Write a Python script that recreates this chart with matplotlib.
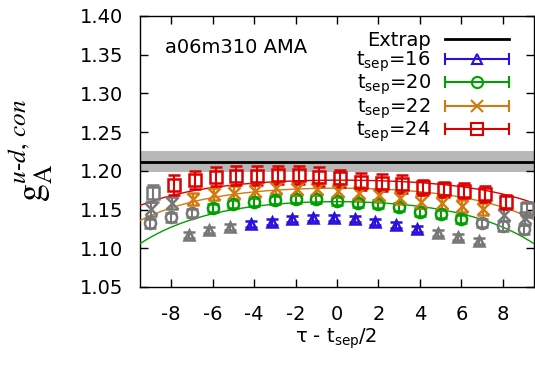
import numpy as np
import matplotlib
matplotlib.use("Agg")
import matplotlib.pyplot as plt
from matplotlib.lines import Line2D
from matplotlib.container import ErrorbarContainer
from matplotlib.legend_handler import HandlerErrorbar

plt.rcParams['font.family'] = ['DejaVu Sans']
plt.rcParams['mathtext.fontset'] = 'dejavusans'
plt.rcParams['axes.unicode_minus'] = False

# data
x16 = [-7, -6, -5, -4, -3, -2, -1, 0, 1, 2, 3, 4, 5, 6, 7]
y16 = [1.1172, 1.1236, 1.1271, 1.1314, 1.1343, 1.1374, 1.1387, 1.1387,
       1.1374, 1.1343, 1.1301, 1.1245, 1.1194, 1.1150, 1.1098]
e16 = [0.004] * 15

x20 = [-9, -8, -7, -6, -5, -4, -3, -2, -1, 0, 1, 2, 3, 4, 5, 6, 7, 8, 9]
y20 = [1.1323, 1.1400, 1.1460, 1.1516, 1.1572, 1.1602, 1.1624, 1.1633, 1.1633, 1.1615,
       1.1589, 1.1572, 1.1529, 1.1473, 1.1443, 1.1374, 1.1331, 1.1288, 1.1245]
e20 = [0.006, 0.006, 0.005, 0.005, 0.005, 0.005, 0.005, 0.005, 0.005, 0.005,
       0.005, 0.005, 0.005, 0.005, 0.005, 0.005, 0.005, 0.006, 0.006]

x22 = [-9, -8, -7, -6, -5, -4, -3, -2, -1, 0, 1, 2, 3, 4, 5, 6, 7, 8, 9]
y22 = [1.1504, 1.1581, 1.1633, 1.1701, 1.1718, 1.1744, 1.1775, 1.1762, 1.1762, 1.1744,
       1.1710, 1.1688, 1.1646, 1.1602, 1.1581, 1.1546, 1.1504, 1.1430, 1.1387]
e22 = [0.009, 0.008, 0.008, 0.008, 0.008, 0.008, 0.008, 0.008, 0.008, 0.008,
       0.008, 0.008, 0.008, 0.008, 0.008, 0.008, 0.008, 0.008, 0.008]

x24 = [-9, -8, -7, -6, -5, -4, -3, -2, -1, 0, 1, 2, 3, 4, 5, 6, 7, 8, 9]
y24 = [1.1710, 1.1817, 1.1882, 1.1925, 1.1938, 1.1938, 1.1947, 1.1947, 1.1925, 1.1904,
       1.1860, 1.1847, 1.1830, 1.1788, 1.1762, 1.1744, 1.1701, 1.1602, 1.1504]
e24 = [0.011, 0.013, 0.012, 0.012, 0.012, 0.012, 0.012, 0.012, 0.012, 0.011,
       0.011, 0.011, 0.011, 0.010, 0.010, 0.010, 0.010, 0.009, 0.010]

tseps = [16, 20, 22, 24]
fit_range = [4, 6, 7, 8]          # |tau - tsep/2| used in the fit (coloured)
x_shift = [-0.15, 0.0, 0.05, 0.15]
colors = ['#2a10dd', '#00a000', '#d07a10', '#dd0000']
markers = ['^', 'o', 'x', 's']
gray = '#777777'

# fit parameters (two-state ratio fit) and extrapolated value
fit_ga = 1.205
fit_dm = 0.277
fit_b1 = -0.0723
fit_b2 = -9.1
extrap = 1.212
extrap_err = 0.014

fs = 14

fig = plt.figure(figsize=(5.35, 3.65), dpi=100)
ax = fig.add_axes([0.2617, 0.2137, 0.7363, 0.7425])

xlo, xhi = -9.5, 9.5
ax.fill_between([xlo, xhi], extrap - extrap_err, extrap + extrap_err,
                color='#b8b8b8', lw=0, zorder=1)
ax.plot([xlo, xhi], [extrap, extrap], color='black', lw=2, zorder=2)

xs = [x16, x20, x22, x24]
ys = [y16, y20, y22, y24]
es = [e16, e20, e22, e24]

xx = np.linspace(xlo, xhi, 200)
for i, ts in enumerate(tseps):
    if ts != 16:
        xr = xx - x_shift[i]
        curve = (fit_ga + fit_b2 * np.exp(-fit_dm * ts)
                 + 2 * fit_b1 * np.exp(-fit_dm * ts / 2) * np.cosh(fit_dm * xr))
        ax.plot(xx, curve, color=colors[i], lw=1, zorder=3)

handles = [Line2D([], [], color='black', lw=2)]
labels = ['Extrap']
for i, ts in enumerate(tseps):
    x = np.array(xs[i], dtype=float)
    y = np.array(ys[i])
    e = np.array(es[i])
    inside = np.abs(x) <= fit_range[i]
    ms = {'^': 7, 'o': 8, 'x': 8, 's': 8.5}[markers[i]]
    for sel, col in [(~inside, gray), (inside, colors[i])]:
        ax.errorbar(x[sel] + x_shift[i], y[sel], yerr=e[sel], fmt=markers[i],
                    color=col, mfc='none', mec=col, ms=ms, mew=1.8,
                    elinewidth=1.5, capsize=4, capthick=1.5, zorder=4)
    h = ax.errorbar([np.nan], [np.nan], xerr=[0.0], fmt=markers[i],
                    color=colors[i], mfc='none', ms=ms, mew=1.5,
                    elinewidth=1.5, capsize=4, capthick=1.5)
    handles.append(h)
    labels.append(r'$\mathregular{t_{sep}}$=%d' % ts)

ax.set_xlim(xlo, xhi)
ax.set_ylim(1.05, 1.40)
ax.set_xticks(np.arange(-8, 9, 2))
ax.set_yticks(np.arange(1.05, 1.401, 0.05))
ax.yaxis.set_major_formatter(matplotlib.ticker.FormatStrFormatter('%.2f'))
ax.tick_params(direction='in', length=6, width=1, top=True, right=True,
               labelsize=fs)
ax.tick_params(axis='y', pad=12)
ax.tick_params(axis='x', pad=13)
for s in ax.spines.values():
    s.set_linewidth(1)

ax.text(0.0635, 0.882, 'a06m310 AMA', transform=ax.transAxes,
        fontsize=fs, va='center', ha='left')

leg = ax.legend(handles, labels, loc='upper right', bbox_to_anchor=(0.944, 0.955),
                fontsize=fs, markerfirst=False, frameon=True, fancybox=False,
                handlelength=3.3, handletextpad=0.72, labelspacing=-0.05,
                borderpad=0.15, borderaxespad=0,
                handler_map={ErrorbarContainer: HandlerErrorbar(xerr_size=1.65)})
leg.get_frame().set_edgecolor('none')
leg.get_frame().set_facecolor('white')
leg.get_frame().set_alpha(1)
leg.set_zorder(10)

fig.text(31 / 535, 1 - 150 / 365, r'$\mathrm{g}_\mathrm{A}^{u\text{-}d,\,con}$',
         rotation=90, ha='center', va='center', fontsize=26, math_fontfamily='stix')
fig.text(336 / 535, 1 - 343 / 365, r'τ - $\mathregular{t_{sep}}$/2',
         ha='center', va='baseline', fontsize=fs)

fig.savefig('out.png', dpi=100)
